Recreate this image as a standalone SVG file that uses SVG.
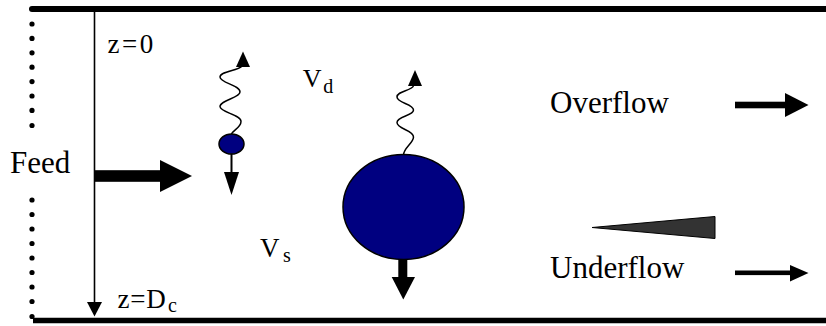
<svg xmlns="http://www.w3.org/2000/svg" width="826" height="326" viewBox="0 0 826 326">
<style>
.t{font-family:"Liberation Serif","Times New Roman",serif;fill:#000}
.wave{fill:none;stroke:#000;stroke-width:1.5}
.dot{fill:#000}
.ptl{fill:#000080;stroke:#000;stroke-width:1.5}
</style>
<rect width="826" height="326" fill="#fff"/>
<g id="walls">
<line x1="32" y1="9" x2="826" y2="9" stroke="#000" stroke-width="6" stroke-linecap="round"/>
<line x1="33" y1="320.5" x2="826" y2="320.5" stroke="#000" stroke-width="5.5"/>
<g class="dot">
<circle cx="32" cy="24" r="2.6"/><circle cx="32" cy="38.4" r="2.6"/><circle cx="32" cy="52.8" r="2.6"/><circle cx="32" cy="67.2" r="2.6"/><circle cx="32" cy="81.6" r="2.6"/><circle cx="32" cy="96" r="2.6"/><circle cx="32" cy="110.4" r="2.6"/><circle cx="32" cy="125.5" r="2.6"/>
<circle cx="32" cy="200" r="2.6"/><circle cx="32" cy="214.5" r="2.6"/><circle cx="32" cy="229" r="2.6"/><circle cx="32" cy="243.5" r="2.6"/><circle cx="32" cy="258" r="2.6"/><circle cx="32" cy="272.5" r="2.6"/><circle cx="32" cy="287" r="2.6"/><circle cx="32" cy="301.5" r="2.6"/><circle cx="32" cy="316.5" r="2.6"/>
</g>
</g>
<g id="axis">
<line x1="94.5" y1="11" x2="94.5" y2="303" stroke="#000" stroke-width="1.6"/>
<polygon points="87,302 102,302 94.5,316.5" fill="#000"/>
<text class="t" x="107.5" y="53" font-size="27" letter-spacing="2.5">z=0</text>
<text class="t" x="117.5" y="308.3" font-size="27" letter-spacing="0.8">z=D</text>
<text class="t" x="168" y="312" font-size="20">c</text>
</g>
<g id="feed">
<text class="t" x="10" y="173.3" font-size="31">Feed</text>
</g>
<g id="connectors">
<rect x="95" y="170.2" width="66" height="11.6" fill="#000"/>
<polygon points="160,160 192,176 160,192" fill="#000"/>
<rect x="735" y="101.7" width="51" height="6.6" fill="#000"/>
<polygon points="785,93 808.5,105 785,117" fill="#000"/>
<rect x="735" y="270.5" width="56" height="4.6" fill="#000"/>
<polygon points="790,265 808.5,273 790,281.5" fill="#000"/>
<polygon points="592,227.5 715,216.5 715,238.5" fill="#333" stroke="#000" stroke-width="1"/>
</g>
<g id="small-particle">
<path class="wave" d="M231.5,134 C233,130 241,127.5 241,121.5 C241,114.5 220,112.5 220,106.5 C220,100 240,98 240,92 C240,85 220,83 220,77 C220,71 238,71 242,66"/>
<polygon points="236,67 250,67 243,51.5" fill="#000"/>
<ellipse class="ptl" cx="231.5" cy="144" rx="12.5" ry="10"/>
<line x1="231.5" y1="154" x2="231.5" y2="173" stroke="#000" stroke-width="2"/>
<polygon points="224,172 239,172 231.5,195" fill="#000"/>
</g>
<g id="large-particle">
<path class="wave" d="M403.5,155 C403.5,148 413.5,143 413.5,137 C413.5,130 397,129 397,122.5 C397,116 413.5,116 413.5,110 C413.5,104 397,103 397,97 C397,91 411,91 413.5,86"/>
<polygon points="408,86 422,86 415,70" fill="#000"/>
<ellipse class="ptl" cx="403.5" cy="207" rx="60.5" ry="52.5"/>
<rect x="398.3" y="259" width="9" height="19" fill="#000"/>
<polygon points="391.7,277 415,277 403.3,299.5" fill="#000"/>
</g>
<g id="labels">
<text class="t" x="302.7" y="86.7" font-size="26">V</text>
<text class="t" x="323.3" y="93.3" font-size="20">d</text>
<text class="t" x="260" y="257.3" font-size="27">V</text>
<text class="t" x="283" y="261.7" font-size="20">s</text>
<text class="t" x="550" y="113" font-size="31">Overflow</text>
<text class="t" x="550" y="278" font-size="31">Underflow</text>
</g>
</svg>
